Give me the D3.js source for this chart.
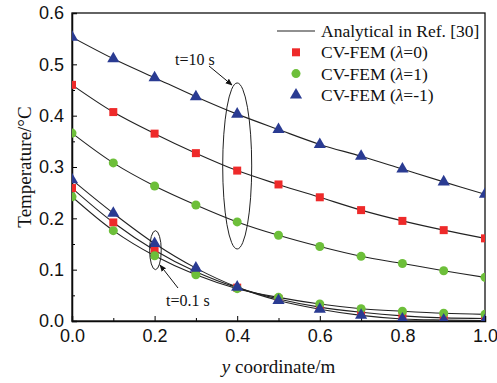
<!DOCTYPE html>
<html>
<head>
<meta charset="utf-8">
<script src="https://cdn.jsdelivr.net/npm/d3@7"></script>
<style>
  body { margin: 0; background: #fff; }
  .tick text { font-family: "Liberation Sans", Arial, sans-serif; font-size: 18px; fill: #111; }
</style>
</head>
<body>
<svg id="chart"></svg>
<script>
// y coordinate (m)
const xs = [0, 0.1, 0.2, 0.3, 0.4, 0.5, 0.6, 0.7, 0.8, 0.9, 1.0];

// t = 10 s
const t10_lam0  = [0.460, 0.407, 0.365, 0.327, 0.293, 0.266, 0.241, 0.216, 0.195, 0.177, 0.161];
const t10_lam1  = [0.366, 0.308, 0.263, 0.226, 0.193, 0.167, 0.145, 0.126, 0.112, 0.098, 0.085];
const t10_lamm1 = [0.553, 0.511, 0.474, 0.437, 0.403, 0.373, 0.344, 0.321, 0.296, 0.271, 0.247];

// t = 0.1 s
const t01_lam0  = [0.259, 0.192, 0.138, 0.096, 0.065, 0.043, 0.027, 0.017, 0.010, 0.006, 0.005];
const t01_lam1  = [0.242, 0.176, 0.127, 0.090, 0.063, 0.046, 0.033, 0.024, 0.019, 0.015, 0.013];
const t01_lamm1 = [0.275, 0.210, 0.151, 0.103, 0.066, 0.040, 0.023, 0.011, 0.004, 0.002, 0.001];

const legendLabels = ['Analytical in Ref. [30]', 'CV-FEM (λ=0)', 'CV-FEM (λ=1)', 'CV-FEM (λ=-1)'];
const xTicks = [0, 0.2, 0.4, 0.6, 0.8, 1.0];
const yTicks = [0, 0.1, 0.2, 0.3, 0.4, 0.5, 0.6];

const width = 497, height = 383;
const margin = {top: 13, right: 12, bottom: 62, left: 72};
const iw = width - margin.left - margin.right;
const ih = height - margin.top - margin.bottom;

const red = '#ee2a2a', green = '#6dbf3a', blue = '#2a3b92';
const serif = '"Liberation Serif", "Times New Roman", Times, serif';

const svg = d3.select('#chart').attr('width', width).attr('height', height);
const chart = svg.append('g').attr('transform', `translate(${margin.left},${margin.top})`);

const xscale = d3.scaleLinear().domain([0, 1]).range([0, iw]);
const yscale = d3.scaleLinear().domain([0, 0.6]).range([ih, 0]);

svg.append('defs').append('clipPath').attr('id', 'clip')
  .append('rect').attr('width', iw).attr('height', ih);

// minor ticks
chart.append('g').attr('transform', `translate(0,${ih})`)
  .call(d3.axisBottom(xscale).tickValues(d3.range(0.1, 1, 0.2)).tickSize(-3).tickFormat(''))
  .call(g => g.select('.domain').remove());
chart.append('g')
  .call(d3.axisLeft(yscale).tickValues(d3.range(0.05, 0.6, 0.1)).tickSize(-3).tickFormat(''))
  .call(g => g.select('.domain').remove());

// major axes
chart.append('g').attr('transform', `translate(0,${ih})`)
  .call(d3.axisBottom(xscale).tickValues(xTicks).tickSize(-5).tickPadding(8).tickFormat(d3.format('.1f')))
  .call(g => g.select('.domain').attr('stroke-width', 1.5));
chart.append('g')
  .call(d3.axisLeft(yscale).tickValues(yTicks).tickSize(-5).tickPadding(8).tickFormat(d3.format('.1f')))
  .call(g => g.select('.domain').attr('stroke-width', 1.5));

// frame
chart.append('rect').attr('width', iw).attr('height', ih)
  .attr('fill', 'none').attr('stroke', '#111').attr('stroke-width', 1.3);

const plot = chart.append('g').attr('clip-path', 'url(#clip)');

const series = [
  {vals: t10_lam0, color: red, shape: 'square'},
  {vals: t10_lam1, color: green, shape: 'circle'},
  {vals: t10_lamm1, color: blue, shape: 'triangle'},
  {vals: t01_lam0, color: red, shape: 'square'},
  {vals: t01_lam1, color: green, shape: 'circle'},
  {vals: t01_lamm1, color: blue, shape: 'triangle'}
];

const line = d3.line()
  .x((d, i) => xscale(xs[i]))
  .y(d => yscale(d))
  .curve(d3.curveCatmullRom);

plot.selectAll('path.line')
  .data(series)
  .join('path')
  .attr('class', 'line')
  .attr('fill', 'none')
  .attr('stroke', '#222')
  .attr('stroke-width', 1.1)
  .attr('d', d => line(d.vals));

const symbols = {
  square: d3.symbol().type(d3.symbolSquare).size(64),
  circle: d3.symbol().type(d3.symbolCircle).size(64),
  triangle: d3.symbol().type(d3.symbolTriangle).size(64)
};

series.forEach(s => {
  plot.append('g').selectAll('path')
    .data(s.vals)
    .join('path')
    .attr('transform', (d, i) => `translate(${xscale(xs[i])},${yscale(d)})`)
    .attr('d', symbols[s.shape])
    .attr('fill', s.color);
});

// annotations
chart.append('ellipse')
  .attr('cx', xscale(0.4)).attr('cy', yscale(0.302))
  .attr('rx', 14.5).attr('ry', 83)
  .attr('fill', 'none').attr('stroke', '#222').attr('stroke-width', 1);
chart.append('ellipse')
  .attr('cx', xscale(0.202)).attr('cy', yscale(0.138))
  .attr('rx', 5.8).attr('ry', 19.5)
  .attr('fill', 'none').attr('stroke', '#222').attr('stroke-width', 1);

svg.append('defs').append('marker')
  .attr('id', 'arrow').attr('viewBox', '0 0 10 10')
  .attr('refX', 9).attr('refY', 5)
  .attr('markerWidth', 7).attr('markerHeight', 7)
  .attr('orient', 'auto')
  .append('path').attr('d', 'M0,1 L10,5 L0,9 z').attr('fill', '#111');

svg.append('line')
  .attr('x1', 209).attr('y1', 66).attr('x2', 232).attr('y2', 85)
  .attr('stroke', '#111').attr('stroke-width', 1).attr('marker-end', 'url(#arrow)');
svg.append('line')
  .attr('x1', 178).attr('y1', 288).attr('x2', 160).attr('y2', 265)
  .attr('stroke', '#111').attr('stroke-width', 1).attr('marker-end', 'url(#arrow)');

svg.append('text').attr('font-family', serif).attr('fill', '#111')
  .attr('x', 175).attr('y', 65).attr('font-size', 16).text('t=10 s');
svg.append('text').attr('font-family', serif).attr('fill', '#111')
  .attr('x', 166).attr('y', 306).attr('font-size', 16).text('t=0.1 s');

// axis titles
const xl = svg.append('text').attr('font-family', serif).attr('fill', '#111')
  .attr('x', margin.left + iw / 2).attr('y', 373)
  .attr('text-anchor', 'middle').attr('font-size', 19);
xl.append('tspan').attr('font-style', 'italic').text('y');
xl.append('tspan').text(' coordinate/m');

svg.append('text').attr('font-family', serif).attr('fill', '#111')
  .attr('transform', `translate(31,${margin.top + ih / 2}) rotate(-90)`)
  .attr('text-anchor', 'middle').attr('font-size', 19)
  .text('Temperature/°C');

// legend
const legend = svg.append('g').attr('transform', 'translate(277,31)');
const rowH = 21.3;
legend.append('line').attr('x1', 0).attr('x2', 38).attr('y1', 0).attr('y2', 0)
  .attr('stroke', '#222').attr('stroke-width', 1.1);
const legShapes = [null, ['square', red], ['circle', green], ['triangle', blue]];
legendLabels.forEach((lab, i) => {
  if (legShapes[i]) {
    legend.append('path')
      .attr('transform', `translate(19,${i * rowH})`)
      .attr('d', symbols[legShapes[i][0]])
      .attr('fill', legShapes[i][1]);
  }
  const t = legend.append('text').attr('font-family', serif).attr('fill', '#111')
    .attr('x', 44).attr('y', i * rowH + 6).attr('font-size', 17.5);
  const m = lab.match(/^(.*\()λ(=.*)$/);
  if (m) {
    t.append('tspan').text(m[1]);
    t.append('tspan').attr('font-style', 'italic').text('λ');
    t.append('tspan').text(m[2]);
  } else {
    t.text(lab);
  }
});
</script>
</body>
</html>
